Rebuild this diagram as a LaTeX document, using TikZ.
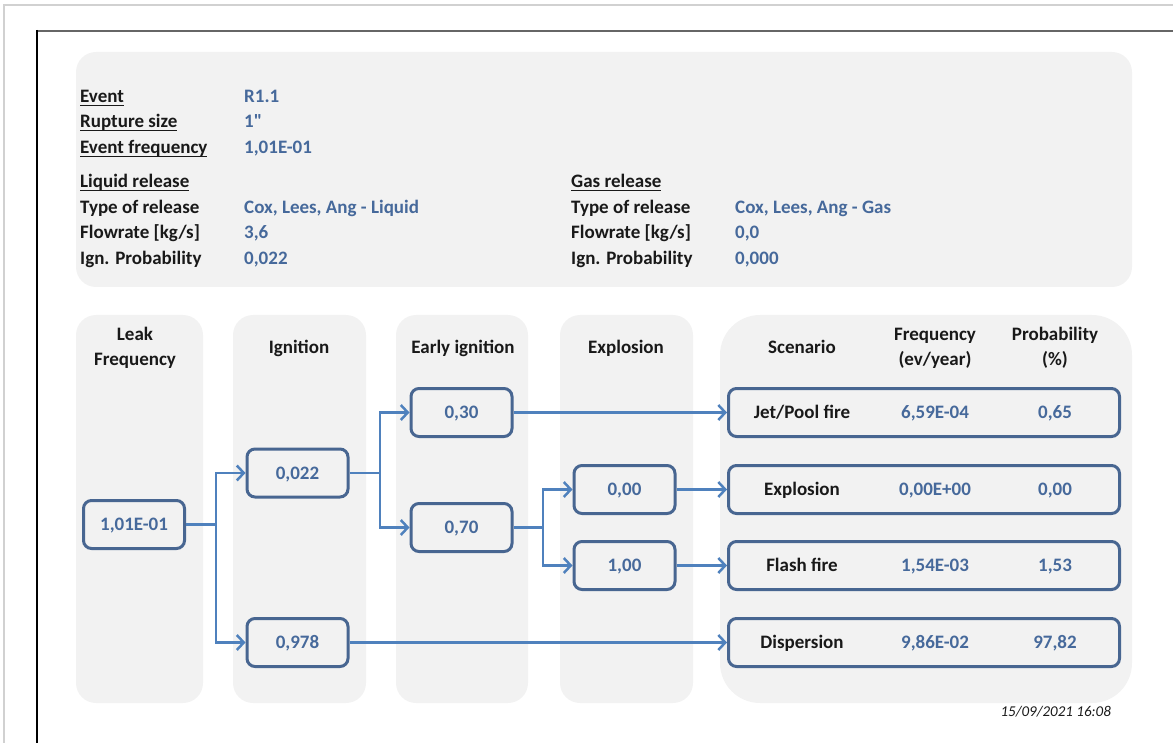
\documentclass[tikz,border=0pt]{standalone}
\usepackage{fontspec}
\setmainfont{Carlito}[Ligatures=TeXOff]
\usepackage{tikz}
\usetikzlibrary{arrows.meta, positioning}
\definecolor{etgray}{RGB}{242,242,242}
\definecolor{etline}{RGB}{72,102,145}
\definecolor{etblue}{RGB}{79,129,189}
\definecolor{etval}{RGB}{70,105,155}
\definecolor{etdark}{RGB}{25,25,25}
\newcommand{\ulbl}[1]{\setbox0\hbox{#1}\rlap{\rule[-3.5pt]{\wd0}{1.3pt}}\box0}

\begin{document}
\begin{tikzpicture}[x=1pt,y=-1pt,
  every node/.style={font=\fontsize{19}{22}\selectfont\bfseries,inner sep=0pt},
  lbl/.style={anchor=base west,text=etdark},
  val/.style={anchor=base west,text=etval},
  head/.style={anchor=base,text=etdark,align=center,
    font=\fontsize{19}{25.7}\selectfont\bfseries},
  panel/.style={fill=etgray,rounded corners=20pt},
  pbox/.style={draw=etline,line width=3pt,fill=etgray,rounded corners=8pt,
    minimum width=101pt,minimum height=48pt,text=etval,
    text height=12pt,text depth=0pt},
  sbox/.style={pbox,minimum width=391pt},
  sctext/.style={text height=12pt,text depth=0pt,text=etval},
  conn/.style={etblue,line width=2.5pt,-{Straight Barb[length=7pt,width=15pt]}}]
  \useasboundingbox (0,0) rectangle (1173,743);
  % page frame
  \draw[black!18,line width=1.2pt] (4,743) -- (4,5) -- (1173,5);
  \draw[black!60,line width=2pt] (1173,31) -- (37,31);
  \draw[black,line width=1.5pt] (37,30) -- (37,743);

  % event data
  \fill[panel] (76,52) rectangle (1132,287);
  \node[lbl] (evt) at (80,102.5) {\ulbl{Event}};
  \node[lbl] (rup) at (80,128) {\ulbl{Rupture size}};
  \node[lbl] (efr) at (80,153.5) {\ulbl{Event frequency}};
  \node[val] (evtv) at (244,102.5) {R1.1};
  \node[val] (rupv) at (244,128) {1"};
  \node[val] (efrv) at (244,153.5) {1,01E-01};
  \node[lbl] (liq) at (80,188) {\ulbl{Liquid release}};
  \node[lbl] (liqt) at (80,213.5) {Type of release};
  \node[lbl] (liqf) at (80,239) {Flowrate [kg/s]};
  \node[lbl] (liqp) at (80,264.5) {Ign. Probability};
  \node[val] (liqtv) at (244,213.5) {Cox, Lees, Ang - Liquid};
  \node[val] (liqfv) at (244,239) {3,6};
  \node[val] (liqpv) at (244,264.5) {0,022};
  \node[lbl] (gas) at (571,188) {\ulbl{Gas release}};
  \node[lbl] (gast) at (571,213.5) {Type of release};
  \node[lbl] (gasf) at (571,239) {Flowrate [kg/s]};
  \node[lbl] (gasp) at (571,264.5) {Ign. Probability};
  \node[val] (gastv) at (735,213.5) {Cox, Lees, Ang - Gas};
  \node[val] (gasfv) at (735,239) {0,0};
  \node[val] (gaspv) at (735,264.5) {0,000};

  % columns
  \fill[panel] (76,315) rectangle (203,703);
  \fill[panel] (233,315) rectangle (366,703);
  \fill[panel] (396,315) rectangle (528,703);
  \fill[panel] (560,315) rectangle (693,703);
  \fill[panel,rounded corners=40pt] (720,315) rectangle (1132,703);
  \node[head] (hleak) at (135,366) {Leak\\Frequency};
  \node[head] (hign) at (299,353.7) {Ignition};
  \node[head] (hearly) at (463,353.7) {Early ignition};
  \node[head] (hexpl) at (626,353.7) {Explosion};
  \node[head] (hscen) at (802,353.7) {Scenario};
  \node[head] (hfreq) at (935,366) {Frequency\\(ev/year)};
  \node[head] (hprob) at (1055,366) {Probability\\(\%)};

  % tree boxes
  \node[pbox] (leak) at (134,524.5) {1,01E-01};
  \node[pbox] (ign) at (297.5,473) {0,022};
  \node[pbox] (noign) at (297.5,642.5) {0,978};
  \node[pbox] (early) at (461.5,412.5) {0,30};
  \node[pbox] (late) at (461.5,527.5) {0,70};
  \node[pbox] (expl) at (624.5,489.5) {0,00};
  \node[pbox] (noexpl) at (624.5,565.5) {1,00};

  % scenarios
  \node[sbox] (jet) at (924,412.5) {};
  \node[sbox] (vce) at (924,489.5) {};
  \node[sbox] (flash) at (924,565.5) {};
  \node[sbox] (disp) at (924,642.5) {};
  \node[sctext,text=etdark] (jetn) at (802,412.5) {Jet/Pool fire};
  \node[sctext] (jetf) at (935,412.5) {6,59E-04};
  \node[sctext] (jetp) at (1055,412.5) {0,65};
  \node[sctext,text=etdark] (vcen) at (802,489.5) {Explosion};
  \node[sctext] (vcef) at (935,489.5) {0,00E+00};
  \node[sctext] (vcep) at (1055,489.5) {0,00};
  \node[sctext,text=etdark] (flashn) at (802,565.5) {Flash fire};
  \node[sctext] (flashf) at (935,565.5) {1,54E-03};
  \node[sctext] (flashp) at (1055,565.5) {1,53};
  \node[sctext,text=etdark] (dispn) at (802,642.5) {Dispersion};
  \node[sctext] (dispf) at (935,642.5) {9,86E-02};
  \node[sctext] (dispp) at (1055,642.5) {97,82};

  % branches
  \coordinate (s1) at (216,524.5);
  \coordinate (s2) at (380,473);
  \coordinate (s3) at (543,527.5);
  \draw[conn] (leak.east) -- (s1) |- (ign.west);
  \draw[conn] (s1) |- (noign.west);
  \draw[conn] (ign.east) -- (s2) |- (early.west);
  \draw[conn] (s2) |- (late.west);
  \draw[conn] (late.east) -- (s3) |- (expl.west);
  \draw[conn] (s3) |- (noexpl.west);
  \draw[conn] (early.east) -- (jet.west);
  \draw[conn] (expl.east) -- (vce.west);
  \draw[conn] (noexpl.east) -- (flash.west);
  \draw[conn] (noign.east) -- (disp.west);

  \node[anchor=base east,font=\fontsize{15}{17}\selectfont\itshape,text=etdark]
    (stamp) at (1111,716) {15/09/2021 16:08};
\end{tikzpicture}
\end{document}
